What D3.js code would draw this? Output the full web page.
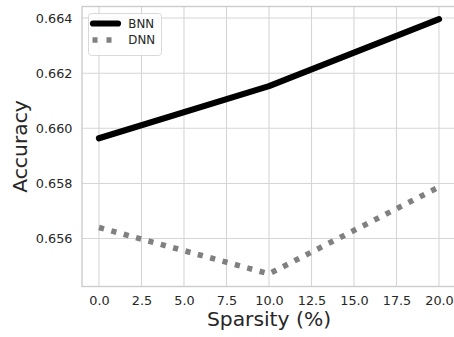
<!DOCTYPE html>
<html>
<head>
<meta charset="utf-8">
<script src="https://cdn.jsdelivr.net/npm/d3@7"></script>
<style>
  html, body { margin: 0; padding: 0; background: #ffffff; }
  svg { display: block; font-family: "DejaVu Sans", sans-serif; }
</style>
</head>
<body>
<svg id="chart" width="454" height="337"></svg>
<script>
// Sparsity levels and accuracy of each model
const sparsity = [0, 10, 20];
const bnnAccuracy = [0.65964, 0.66153, 0.66396];
const dnnAccuracy = [0.65640, 0.65472, 0.65787];
const seriesNames = ["BNN", "DNN"];
const xTicks = [0, 2.5, 5, 7.5, 10, 12.5, 15, 17.5, 20];
const yTicks = [0.656, 0.658, 0.660, 0.662, 0.664];

const svg = d3.select("#chart");
const plot = { left: 82, right: 456, top: 6.5, bottom: 286.5 };

const x = d3.scaleLinear().domain([-1, 21]).range([plot.left, plot.right]);
const y = d3.scaleLinear().domain([0.65426, 0.66442]).range([plot.bottom, plot.top]);

const gridColor = "#d6d6d6";
const textColor = "#262626";

// Grid lines
const grid = svg.append("g");
grid.selectAll("line.vx").data(xTicks).join("line")
  .attr("x1", d => x(d)).attr("x2", d => x(d))
  .attr("y1", plot.top).attr("y2", plot.bottom)
  .attr("stroke", gridColor).attr("stroke-width", 1.1);
grid.selectAll("line.hy").data(yTicks).join("line")
  .attr("x1", plot.left).attr("x2", plot.right)
  .attr("y1", d => y(d)).attr("y2", d => y(d))
  .attr("stroke", gridColor).attr("stroke-width", 1.1);

// Frame (spines)
svg.append("rect")
  .attr("x", plot.left).attr("y", plot.top)
  .attr("width", plot.right - plot.left).attr("height", plot.bottom - plot.top)
  .attr("fill", "none").attr("stroke", "#cccccc").attr("stroke-width", 1.4);

// Axes
const xAxis = svg.append("g")
  .attr("transform", `translate(0,${plot.bottom})`)
  .call(d3.axisBottom(x).tickValues(xTicks).tickFormat(d3.format(".1f")).tickSize(0).tickPadding(9));
const yAxis = svg.append("g")
  .attr("transform", `translate(${plot.left},0)`)
  .call(d3.axisLeft(y).tickValues(yTicks).tickFormat(d3.format(".3f")).tickSize(0).tickPadding(9.5));
[xAxis, yAxis].forEach(g => {
  g.select(".domain").remove();
  g.selectAll("text")
    .attr("fill", textColor)
    .style("font-size", "12.8px")
    .style("font-family", "DejaVu Sans, sans-serif");
});

// Axis titles
svg.append("text")
  .attr("x", x(10)).attr("y", 326)
  .attr("text-anchor", "middle")
  .attr("fill", textColor)
  .style("font-size", "20.3px")
  .text("Sparsity (%)");
svg.append("text")
  .attr("transform", `translate(27,${(plot.top + plot.bottom) / 2}) rotate(-90)`)
  .attr("text-anchor", "middle")
  .attr("fill", textColor)
  .style("font-size", "20.3px")
  .text("Accuracy");

// Lines
const line = d3.line()
  .x((d, i) => x(sparsity[i]))
  .y(d => y(d));

svg.append("path")
  .datum(dnnAccuracy)
  .attr("d", line)
  .attr("fill", "none")
  .attr("stroke", "#808080")
  .attr("stroke-width", 5.6)
  .attr("stroke-dasharray", "5.2 7.6")
  .attr("stroke-linecap", "butt");

svg.append("path")
  .datum(bnnAccuracy)
  .attr("d", line)
  .attr("fill", "none")
  .attr("stroke", "#000000")
  .attr("stroke-width", 6.2)
  .attr("stroke-linecap", "round")
  .attr("stroke-linejoin", "round");

// Legend
const legend = svg.append("g");
legend.append("rect")
  .attr("x", 88.5).attr("y", 13.5)
  .attr("width", 73).attr("height", 42)
  .attr("rx", 3).attr("ry", 3)
  .attr("fill", "#ffffff").attr("fill-opacity", 0.8)
  .attr("stroke", "#d9d9d9").attr("stroke-width", 1);

const legendRows = [
  { name: seriesNames[0], cy: 23.5, stroke: "#000000", width: 6.2, dash: null, cap: "round", x1: 93, x2: 118 },
  { name: seriesNames[1], cy: 40, stroke: "#808080", width: 5.6, dash: "5 9", cap: "butt", x1: 92.5, x2: 112 }
];
legendRows.forEach(r => {
  legend.append("line")
    .attr("x1", r.x1).attr("x2", r.x2)
    .attr("y1", r.cy).attr("y2", r.cy)
    .attr("stroke", r.stroke).attr("stroke-width", r.width)
    .attr("stroke-linecap", r.cap)
    .attr("stroke-dasharray", r.dash);
  legend.append("text")
    .attr("x", 128.3).attr("y", r.cy)
    .attr("dy", "0.36em")
    .attr("fill", textColor)
    .style("font-size", "11.8px")
    .text(r.name);
});
</script>
</body>
</html>
